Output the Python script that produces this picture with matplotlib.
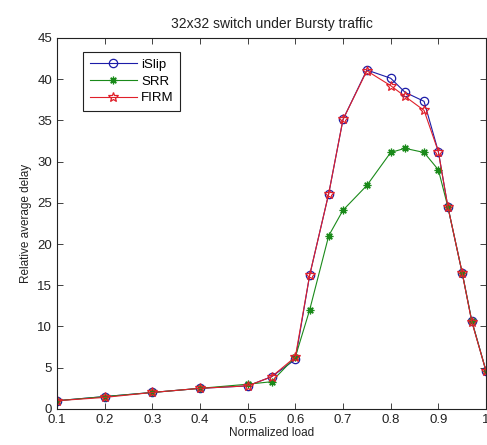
import matplotlib
matplotlib.use('Agg')
import matplotlib.pyplot as plt

plt.rcParams['font.family'] = ['Liberation Sans', 'DejaVu Sans']

load = [0.1, 0.2, 0.3, 0.4, 0.5, 0.55, 0.6, 0.63, 0.67, 0.7, 0.75, 0.8, 0.83, 0.87, 0.9, 0.92, 0.95, 0.97, 1.0]
islip = [1.0, 1.5, 2.0, 2.5, 2.8, 3.9, 6.0, 16.2, 26.1, 35.1, 41.1, 40.1, 38.4, 37.3, 31.2, 24.5, 16.5, 10.7, 4.6]
srr = [1.0, 1.5, 2.0, 2.5, 3.0, 3.3, 6.3, 12.0, 21.0, 24.1, 27.1, 31.1, 31.6, 31.1, 29.0, 24.5, 16.5, 10.7, 4.6]
firm = [1.0, 1.4, 2.0, 2.5, 2.8, 3.9, 6.3, 16.2, 26.1, 35.1, 41.0, 39.2, 37.9, 36.2, 31.2, 24.5, 16.5, 10.6, 4.6]

xticks = [0.1, 0.2, 0.3, 0.4, 0.5, 0.6, 0.7, 0.8, 0.9, 1.0]
xticklabels = ['0.1', '0.2', '0.3', '0.4', '0.5', '0.6', '0.7', '0.8', '0.9', '1']
yticks = [0, 5, 10, 15, 20, 25, 30, 35, 40, 45]

fig = plt.figure(figsize=(4.87, 4.45), dpi=100)
ax = fig.add_axes([0.117, 0.081, 0.881, 0.834])

ax.plot(load, islip, color='#1c1ca8', lw=0.8, marker='o', ms=6, mfc='none', mew=0.9, label='iSlip')
ax.plot(load, srr, color='#1a8a1a', lw=0.8, marker=(8, 2, 0), ms=5.5, mew=0.9, label='SRR')
ax.plot(load, firm, color='#e0202a', lw=0.8, marker='*', ms=7, mfc='none', mew=0.9, label='FIRM')

ax.set_xlim(0.1, 1.0)
ax.set_ylim(0, 45)
ax.set_xticks(xticks)
ax.set_xticklabels(xticklabels)
ax.set_yticks(yticks)
ax.tick_params(direction='in', top=True, right=True, labelsize=9.5, length=4, width=0.6, colors='#222222')
for s in ax.spines.values():
    s.set_linewidth(0.8)
    s.set_color('#222222')

ax.set_title('32x32 switch under Bursty traffic', fontsize=10, color='#222222', pad=7)
ax.set_xlabel('Normalized load', fontsize=8.5, color='#222222', labelpad=1)
ax.set_ylabel('Relative average delay', fontsize=8.5, color='#222222', labelpad=4)

leg = ax.legend(loc='upper left', bbox_to_anchor=(0.061, 0.962), borderaxespad=0, fontsize=9.5,
                fancybox=False, edgecolor='#222222', framealpha=1, handlelength=3.6,
                labelspacing=0.35, borderpad=0.5, handletextpad=0.3)
leg.get_frame().set_linewidth(0.8)

fig.savefig('out.png', dpi=100)
